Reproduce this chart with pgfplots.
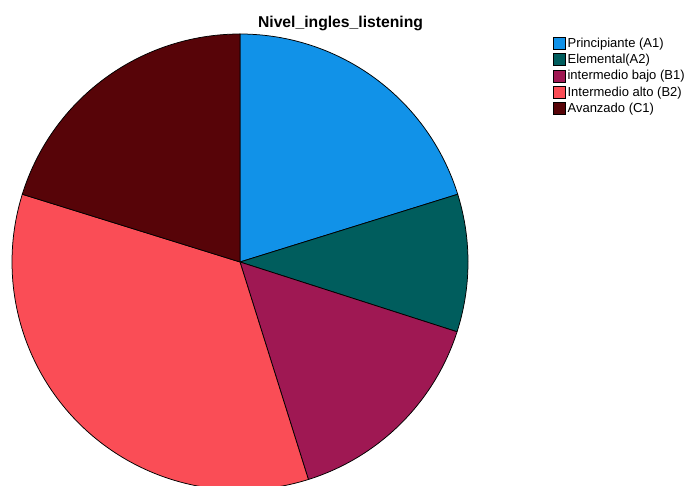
\documentclass[border=0pt]{standalone}
\usepackage{fontspec}
\setmainfont{Liberation Sans}
\usepackage{pgfplots}
\pgfplotsset{compat=1.18}
\definecolor{cA}{HTML}{1192E8}
\definecolor{cB}{HTML}{005D5D}
\definecolor{cC}{HTML}{9F1853}
\definecolor{cD}{HTML}{FA4D56}
\definecolor{cE}{HTML}{570408}
% Percentages (clockwise from 12 o'clock):
% Principiante (A1) 20.20, Elemental(A2) 9.75, intermedio bajo (B1) 15.20,
% Intermedio alto (B2) 34.65, Avanzado (C1) 20.20
% Slice boundaries in degrees: 90, 17.28, -17.82, -72.54, -197.28, -270
\begin{document}
\begin{tikzpicture}
\begin{axis}[
  name=ax,
  hide axis,
  scale only axis,
  width=685pt, height=486pt,
  xmin=-1.05263, xmax=1.95175,
  ymin=-0.98246, ymax=1.14912,
  clip=true,
  legend image code/.code={\draw[#1,draw=black,line width=0.6pt] (0pt,-2pt) rectangle (12pt,10pt);},
  legend style={draw=none, fill=none, at={(rel axis cs:0.8073,0.9239)}, anchor=north west,
    inner sep=0pt, outer sep=0pt, row sep=3pt,
    font=\fontsize{13}{15}\selectfont,
    nodes={inner sep=0pt, text height=10pt, text depth=3pt, anchor=base west},
    /tikz/every odd column/.append style={column sep=2pt}},
  legend cell align=left,
]
\addplot[fill=cA, draw=black, line width=0.75pt, domain=17.28:90, samples=80] ({cos(x)},{sin(x)}) -- (axis cs:0,0) -- cycle;
\addlegendentry{Principiante (A1)}
\addplot[fill=cB, draw=black, line width=0.75pt, domain=-17.82:17.28, samples=50] ({cos(x)},{sin(x)}) -- (axis cs:0,0) -- cycle;
\addlegendentry{Elemental(A2)}
\addplot[fill=cC, draw=black, line width=0.75pt, domain=-72.54:-17.82, samples=70] ({cos(x)},{sin(x)}) -- (axis cs:0,0) -- cycle;
\addlegendentry{intermedio bajo (B1)}
\addplot[fill=cD, draw=black, line width=0.75pt, domain=-197.28:-72.54, samples=140] ({cos(x)},{sin(x)}) -- (axis cs:0,0) -- cycle;
\addlegendentry{Intermedio alto (B2)}
\addplot[fill=cE, draw=black, line width=0.75pt, domain=-270:-197.28, samples=80] ({cos(x)},{sin(x)}) -- (axis cs:0,0) -- cycle;
\addlegendentry{Avanzado (C1)}
\node[anchor=base, font=\bfseries\fontsize{15.7}{18}\selectfont, inner sep=0pt] at (rel axis cs:0.4971,0.9444) {Nivel\_ingles\_listening};
\end{axis}
\pgfresetboundingbox
\path[use as bounding box] (ax.south west) rectangle (ax.north east);
\end{tikzpicture}
\end{document}
